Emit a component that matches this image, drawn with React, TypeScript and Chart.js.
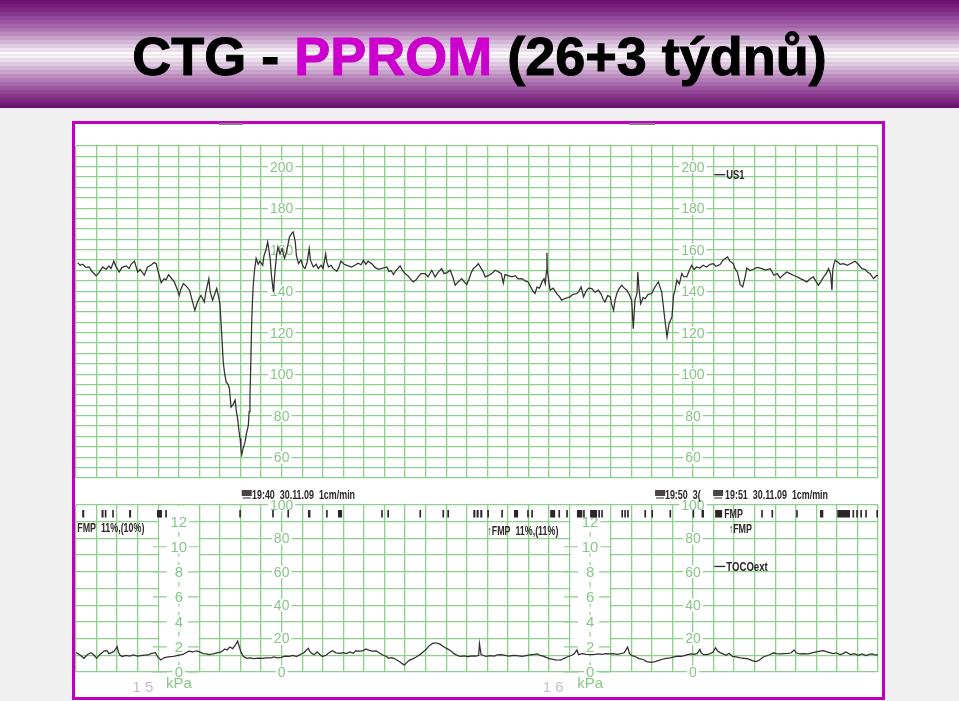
import { useEffect, useRef } from 'react';
import { Chart, registerables } from 'chart.js';

Chart.register(...registerables);

// ---------- DATA ----------
// Fetal heart rate trace: [minute on the strip, bpm]
const fhrTrace: [number, number][] = [
  [0.04,153.8],[0.10,152.5],[0.16,153],[0.24,151.5],[0.32,151.7],[0.39,149.5],[0.49,147.4],[0.56,149],[0.65,151.7],[0.73,150.5],
  [0.80,152.2],[0.85,151],[0.92,154.5],[0.97,152],[1.05,149.3],[1.12,151.5],[1.22,152.2],[1.29,151],[1.34,153],[1.42,154.5],
  [1.50,149.3],[1.56,150.5],[1.66,147.7],[1.74,151.7],[1.82,152.5],[1.90,153.8],[1.95,153.3],[1.99,150],[2.07,144.2],[2.14,146],
  [2.19,145.5],[2.25,148],[2.31,146.5],[2.39,144.5],[2.46,141],[2.51,138],[2.55,141],[2.61,143.7],[2.68,142.5],[2.76,140.5],
  [2.82,136],[2.89,130.8],[2.94,134],[2.99,136.5],[3.04,138],[3.09,136],[3.12,134.8],[3.16,140],[3.23,146.1],[3.26,140],
  [3.32,135.7],[3.38,139],[3.42,141.3],[3.46,138],[3.50,134],[3.54,120.4],[3.58,105.9],[3.61,101],[3.65,96.3],[3.70,95],
  [3.73,93.1],[3.77,84.2],[3.82,85.5],[3.87,87.5],[3.90,82],[3.93,78.7],[3.96,73],[3.99,69],[4.01,64],[4.03,61.3],
  [4.06,64],[4.11,67.4],[4.14,71],[4.19,75.4],[4.21,82],[4.23,89],[4.25,105],[4.27,123.6],[4.29,135],[4.31,142.9],
  [4.34,150],[4.38,155.8],[4.43,153],[4.47,154.5],[4.54,152.5],[4.57,157],[4.62,160],[4.66,163.8],[4.69,160],[4.72,155.8],
  [4.75,148],[4.80,139.7],[4.84,150],[4.88,158],[4.91,161.3],[4.96,158],[5.01,160.5],[5.07,155.8],[5.12,159],[5.19,166.2],
  [5.25,168],[5.28,168.6],[5.33,164],[5.36,157],[5.41,153.3],[5.47,155],[5.52,152],[5.57,150.9],[5.62,154],[5.67,160.5],
  [5.70,155],[5.77,151.7],[5.84,153],[5.89,150.9],[5.96,152.5],[6.01,151],[6.07,158.1],[6.10,154],[6.14,151.7],[6.20,152.5],
  [6.25,151],[6.34,149.6],[6.39,151.5],[6.44,154.5],[6.52,153],[6.59,152.5],[6.70,151.7],[6.78,152.5],[6.86,153.5],[6.93,152.8],
  [6.99,154.9],[7.05,153],[7.10,154.5],[7.19,153.3],[7.27,151.5],[7.35,150.6],[7.44,151],[7.56,151.7],[7.61,149.5],[7.66,150],
  [7.72,148],[7.78,150],[7.88,152.2],[7.94,150],[8.00,148.5],[8.07,147.5],[8.13,146],[8.20,144.5],[8.27,145.5],[8.32,146.9],
  [8.39,148.5],[8.49,148.5],[8.56,147],[8.65,150.1],[8.73,146.9],[8.80,149],[8.89,150.9],[8.95,148.5],[9.02,149],[9.10,150.1],
  [9.16,147],[9.22,142.9],[9.29,144.5],[9.38,146.1],[9.44,144.5],[9.50,143.2],[9.56,146],[9.61,149],[9.66,150.9],[9.73,152],
  [9.78,153.3],[9.85,151],[9.90,149.5],[9.95,146.9],[10.02,147.5],[10.11,148.5],[10.19,150.1],[10.26,149.5],[10.34,148.5],[10.39,143.9],
  [10.43,148],[10.51,147.5],[10.60,146.9],[10.68,147.5],[10.75,146],[10.84,146.1],[10.92,145],[10.99,144.5],[11.06,142],[11.11,140],
  [11.16,138.9],[11.21,142],[11.27,141.5],[11.33,144.5],[11.38,146],[11.41,143.7],[11.44,150],[11.45,158.5],[11.46,150.1],[11.50,144],
  [11.53,140.5],[11.60,141.5],[11.69,138.9],[11.75,137.5],[11.81,135.7],[11.89,136.5],[12.01,137.3],[12.09,138.5],[12.18,138.9],[12.23,140],
  [12.28,142.1],[12.34,137.3],[12.40,140],[12.46,141.5],[12.54,141.3],[12.62,139.5],[12.70,140.5],[12.77,138.5],[12.82,136],[12.86,134.8],
  [12.93,138],[12.99,137.3],[13.02,134],[13.07,130.8],[13.11,136],[13.15,138.9],[13.20,141],[13.27,142.9],[13.33,141.5],[13.39,140.5],
  [13.45,138.5],[13.51,135.7],[13.55,122],[13.59,135.7],[13.64,139],[13.66,149.3],[13.69,141],[13.73,134],[13.79,137],[13.84,136.4],
  [13.91,138.5],[14.00,138.9],[14.06,141.5],[14.11,143],[14.16,144.5],[14.20,142],[14.24,139.7],[14.28,133],[14.31,127.6],[14.37,118],
  [14.42,124.4],[14.49,127.6],[14.53,138],[14.57,141],[14.61,145.3],[14.67,143.5],[14.73,148.5],[14.78,147],[14.85,146.9],[14.91,150],
  [14.97,152.5],[15.03,150.5],[15.09,151.7],[15.17,151.2],[15.25,152.5],[15.33,151.7],[15.42,153],[15.50,153.3],[15.56,152],[15.66,152.9],
  [15.73,155],[15.84,156.5],[15.90,154.5],[15.98,153.3],[16.02,151],[16.08,149.3],[16.15,143.2],[16.21,142.1],[16.27,146.9],[16.31,151.2],
  [16.39,150],[16.47,150.6],[16.56,151.5],[16.68,150.9],[16.76,150.2],[16.88,150.9],[16.97,147.7],[17.05,148.5],[17.12,146.4],[17.20,148],
  [17.28,149.3],[17.36,148.5],[17.44,147.7],[17.53,147],[17.61,146.1],[17.68,145.5],[17.77,144.5],[17.85,146],[17.93,146.9],[18.00,144.5],
  [18.05,142.9],[18.12,145],[18.18,146.9],[18.24,148.5],[18.30,150.9],[18.35,148],[18.38,140.5],[18.40,150],[18.42,152.5],[18.46,154.9],
  [18.53,154],[18.58,153],[18.66,153.3],[18.75,152.5],[18.85,153.5],[18.94,154.5],[19.02,153],[19.11,150.9],[19.19,150.5],[19.26,149],
  [19.31,148.5],[19.39,146.1],[19.46,147.5],[19.50,147.7],
];

// External tocography trace: [minute on the strip, mmHg]
const tocoTrace: [number, number][] = [
  [0.00,11.6],[0.10,10.2],[0.19,8.2],[0.28,10.5],[0.37,11.6],[0.44,10],[0.50,8.2],[0.58,10.5],[0.69,12.7],[0.75,12.8],
  [0.80,11],[0.87,11.6],[0.93,12.5],[1.00,15.2],[1.03,12],[1.07,10.2],[1.12,9.3],[1.22,10],[1.31,9.5],[1.39,10.2],
  [1.50,9.5],[1.61,10],[1.75,10.2],[1.82,11],[1.93,11.6],[1.99,9],[2.06,7.2],[2.14,8.5],[2.24,9],[2.37,9.3],
  [2.48,10],[2.60,10.5],[2.74,12.5],[2.85,12],[2.92,12.7],[2.99,12.2],[3.09,11],[3.16,10.8],[3.24,10.4],[3.33,10.8],
  [3.43,11.5],[3.53,12],[3.62,13.8],[3.67,13.2],[3.74,15],[3.81,14],[3.87,16],[3.93,18.5],[3.96,16],[4.00,12.7],
  [4.06,9.5],[4.15,8.2],[4.23,8.4],[4.33,8.0],[4.43,8.3],[4.53,8.1],[4.62,8.5],[4.74,8.4],[4.81,9],[4.89,8.5],
  [4.99,8.8],[5.08,9.5],[5.18,9.3],[5.28,10],[5.36,9.3],[5.45,10.5],[5.54,11.5],[5.65,14.2],[5.68,12.5],[5.74,11],
  [5.80,10.4],[5.86,12],[5.93,10.5],[5.99,9.3],[6.08,10],[6.15,11.5],[6.24,12.7],[6.32,11.5],[6.42,11.2],[6.49,11.6],
  [6.57,11],[6.66,12],[6.74,11.2],[6.80,12.7],[6.91,12.5],[6.98,12.8],[7.05,13.8],[7.13,13],[7.20,12.5],[7.30,12.7],
  [7.37,11.5],[7.47,10],[7.55,9.3],[7.60,8.2],[7.66,8.6],[7.73,8.2],[7.81,7],[7.88,6],[7.93,5],[7.99,4.2],
  [8.03,5.5],[8.11,7.1],[8.20,8],[8.27,9],[8.36,10.4],[8.44,12],[8.51,13.5],[8.58,15.5],[8.67,17.1],[8.75,17.5],
  [8.85,16.7],[8.95,15],[9.02,14],[9.11,12.7],[9.19,11],[9.27,10],[9.35,9.3],[9.44,9.6],[9.53,9.2],[9.63,9.7],
  [9.73,9.5],[9.79,10],[9.81,17],[9.85,10.4],[9.97,9.3],[10.07,9.8],[10.17,9.5],[10.24,10.2],[10.35,10.4],[10.43,10],
  [10.53,9.5],[10.63,10],[10.72,9.8],[10.85,9.3],[10.94,9.8],[11.04,10.2],[11.14,10.5],[11.22,10.9],[11.28,10],[11.36,9.5],
  [11.43,8.8],[11.50,8],[11.60,7.5],[11.67,7.2],[11.78,7.1],[11.87,8.2],[11.97,9.3],[12.06,10],[12.12,11],[12.18,13.2],
  [12.22,10.4],[12.31,11],[12.40,10.5],[12.50,10.4],[12.59,10.4],[12.69,10.8],[12.79,10.5],[12.89,11],[12.97,10.9],[13.06,11],
  [13.16,10.5],[13.25,11],[13.33,11.5],[13.41,14.9],[13.46,11],[13.52,9.8],[13.59,9.3],[13.69,8],[13.79,7.5],[13.88,6.2],
  [13.97,5.8],[14.06,6],[14.15,6.8],[14.24,7.5],[14.34,8.2],[14.45,8.5],[14.54,9],[14.64,9.5],[14.72,9.3],[14.81,10],
  [14.89,10.5],[14.97,10.9],[15.03,10.5],[15.10,11],[15.17,13.5],[15.20,11.5],[15.26,10.4],[15.34,10.4],[15.42,11],[15.49,12],
  [15.55,14.5],[15.60,12.5],[15.66,11.6],[15.72,11],[15.81,10],[15.88,11.2],[15.96,9.3],[16.05,9],[16.15,8.5],[16.25,8.2],
  [16.34,7.8],[16.44,6.8],[16.54,6.2],[16.62,7.2],[16.71,9],[16.78,9.6],[16.88,10.5],[16.96,11.5],[17.02,11],[17.12,10.8],
  [17.21,11],[17.33,11.2],[17.39,11.5],[17.46,13.2],[17.51,11.5],[17.59,10.8],[17.68,11],[17.80,10.8],[17.90,11.5],[18.00,12],
  [18.09,12.5],[18.17,12.8],[18.26,12],[18.33,11.6],[18.41,11],[18.48,11.5],[18.58,10.4],[18.65,11],[18.72,12],[18.83,10.4],
  [18.92,11],[19.02,10],[19.11,10.8],[19.21,9.8],[19.28,10.5],[19.36,10.8],[19.43,10.2],[19.50,10.2],
];

// Fetal movement marks: [start minute, end minute]
const fmpMarks: [number, number][] = [
  [0.15,0.20],[0.62,0.67],[0.70,0.74],[0.88,0.92],[1.29,1.34],[1.97,2.09],[2.17,2.21],[3.97,4.01],[4.77,4.81],[5.14,5.18],
  [5.64,5.70],[6.08,6.12],[6.37,6.47],[7.42,7.46],[7.57,7.61],[8.35,8.39],[8.91,8.95],[9.03,9.07],[9.66,9.71],[9.74,9.79],
  [9.83,9.88],[10.00,10.04],[10.34,10.38],[10.65,10.75],[10.97,11.01],[11.07,11.11],[11.53,11.65],[11.73,11.77],[11.92,11.96],[12.18,12.31],
  [12.33,12.37],[12.50,12.67],[12.70,12.74],[12.77,12.81],[13.26,13.30],[13.33,13.37],[13.40,13.44],[13.82,13.86],[13.99,14.03],[14.43,14.47],
  [14.99,15.03],[15.21,15.27],[15.54,15.71],[16.66,16.70],[16.91,16.95],[17.51,17.55],[18.09,18.17],[18.51,18.82],[18.88,18.92],[18.97,19.01],
  [19.07,19.11],[19.19,19.23],[19.46,19.50],
];

const fhrScaleLabels = [60, 80, 100, 120, 140, 160, 180, 200];
const tocoScaleLabels = [0, 20, 40, 60, 80, 100];
const kpaScaleLabels = [0, 2, 4, 6, 8, 10, 12];
const mmScaleMinutes = [5, 15];
const kpaScaleMinutes = [2.5, 12.5];
const timestampTexts = ['19:40  30.11.09  1cm/min', '19:50  3(', '19:51  30.11.09  1cm/min'];
const fmpTexts = ['FMP  11%,(10%)', '\u2191FMP  11%,(11%)', 'FMP', '\u2191FMP'];
const pageNumbers = ['1 5', '1 6'];

// ---------- STYLE ----------
const GRID = '#8cd08c';
const LABEL = '#86c886';
const TRACE = '#352e30';
const INK = '#2c2628';
const FONT = '"Liberation Sans", Arial, Helvetica, sans-serif';

function drawCondensed(ctx: CanvasRenderingContext2D, text: string, x: number, y: number, size: number, color: string, sx = 0.72, weight = 'bold') {
  ctx.save();
  ctx.translate(x, y);
  ctx.scale(sx, 1);
  ctx.font = `${weight} ${size}px ${FONT}`;
  ctx.fillStyle = color;
  ctx.textAlign = 'left';
  ctx.textBaseline = 'alphabetic';
  ctx.fillText(text, 0, 0);
  ctx.restore();
}

function drawScaleLabel(ctx: CanvasRenderingContext2D, text: string, x: number, y: number, size = 14) {
  ctx.font = `${size}px ${FONT}`;
  const w = ctx.measureText(text).width;
  ctx.fillStyle = '#ffffff';
  ctx.fillRect(x - w / 2 - 2, y - size * 0.45, w + 4, size * 0.9);
  ctx.fillStyle = LABEL;
  ctx.textAlign = 'center';
  ctx.textBaseline = 'middle';
  ctx.fillText(text, x, y + 1);
}

function drawIcon(ctx: CanvasRenderingContext2D, x: number, y: number) {
  ctx.fillStyle = '#4a4446';
  ctx.fillRect(x, y - 9, 10, 6);
  ctx.fillStyle = '#9a9496';
  ctx.fillRect(x + 1, y - 2, 8, 2);
}

const xScaleOptions = {
  type: 'linear' as const,
  min: 0,
  max: 19.5,
  ticks: { display: false, stepSize: 0.5, autoSkip: false },
  grid: { color: GRID, lineWidth: 1.3, drawTicks: false },
  border: { display: false },
  afterFit: (s: any) => { s.height = 0; },
};

const fhrPaperPlugin = {
  id: 'fhrPaper',
  beforeDatasetsDraw(chart: any) {
    const { ctx } = chart;
    const x = chart.scales.x, y = chart.scales.y;
    ctx.save();
    for (const m of mmScaleMinutes) {
      for (const v of fhrScaleLabels) drawScaleLabel(ctx, String(v), x.getPixelForValue(m), y.getPixelForValue(v));
    }
    ctx.restore();
  },
  afterDraw(chart: any) {
    const { ctx } = chart;
    const x = chart.scales.x, y = chart.scales.y;
    const px = x.getPixelForValue(15.52), py = y.getPixelForValue(194);
    ctx.save();
    ctx.strokeStyle = INK;
    ctx.lineWidth = 1.3;
    ctx.beginPath();
    ctx.moveTo(px, py - 4.5);
    ctx.lineTo(px + 11, py - 4.5);
    ctx.stroke();
    drawCondensed(ctx, 'US1', px + 12, py, 12, INK, 0.78);
    ctx.restore();
  },
};

const tocoPaperPlugin = {
  id: 'tocoPaper',
  beforeDatasetsDraw(chart: any) {
    const { ctx } = chart;
    const x = chart.scales.x, y = chart.scales.y, k = chart.scales.kpa;
    ctx.save();
    const top = y.getPixelForValue(100) + 1;
    const bot = y.getPixelForValue(0) - 1;
    for (const m of kpaScaleMinutes) {
      const cx = x.getPixelForValue(m);
      const l = x.getPixelForValue(m - 0.5) + 1;
      const r = x.getPixelForValue(m + 0.5) - 1;
      ctx.fillStyle = '#ffffff';
      ctx.fillRect(l, top, r - l, bot - top);
      ctx.strokeStyle = GRID;
      ctx.lineWidth = 1.2;
      ctx.setLineDash([5, 5]);
      ctx.beginPath();
      ctx.moveTo(cx, k.getPixelForValue(12));
      ctx.lineTo(cx, bot);
      ctx.stroke();
      ctx.setLineDash([]);
      for (const v of kpaScaleLabels) {
        const py = k.getPixelForValue(v);
        ctx.beginPath();
        if (v !== 12) { ctx.moveTo(cx - 26, py); ctx.lineTo(cx - 12, py); }
        ctx.moveTo(cx + 9, py);
        ctx.lineTo(cx + 20, py);
        ctx.stroke();
        drawScaleLabel(ctx, String(v), cx, py, 15);
      }
    }
    for (const m of mmScaleMinutes) {
      for (const v of tocoScaleLabels) drawScaleLabel(ctx, String(v), x.getPixelForValue(m), y.getPixelForValue(v));
    }
    ctx.restore();
  },
  afterDraw(chart: any) {
    const { ctx } = chart;
    const x = chart.scales.x, y = chart.scales.y, k = chart.scales.kpa;
    ctx.save();
    // fetal movement marks
    ctx.fillStyle = INK;
    const y0 = y.getPixelForValue(97), y1 = y.getPixelForValue(92.5);
    for (const [a, b] of fmpMarks) {
      const x0 = x.getPixelForValue(a), x1 = x.getPixelForValue(b);
      ctx.fillRect(x0, y0, Math.max(1.6, x1 - x0), y1 - y0);
    }
    // timestamps
    const tsY = y.getPixelForValue(103.6);
    const tsPos = [[4.03, 4.28], [14.08, 14.32], [15.49, 15.78]];
    tsPos.forEach(([im, tm], i) => {
      drawIcon(ctx, x.getPixelForValue(im), tsY);
      drawCondensed(ctx, timestampTexts[i], x.getPixelForValue(tm), tsY, 13.5, INK, 0.66);
    });
    // FMP notes
    const fmpPos = [[0.03, 83.8], [10.0, 82], [15.76, 92], [15.87, 83]];
    fmpPos.forEach(([m, v], i) => drawCondensed(ctx, fmpTexts[i], x.getPixelForValue(m), y.getPixelForValue(v), 12, INK, 0.74));
    // TOCOext legend
    const lx = x.getPixelForValue(15.52), ly = y.getPixelForValue(60.5);
    ctx.strokeStyle = INK;
    ctx.lineWidth = 1.3;
    ctx.beginPath();
    ctx.moveTo(lx, ly - 4.5);
    ctx.lineTo(lx + 11, ly - 4.5);
    ctx.stroke();
    drawCondensed(ctx, 'TOCOext', lx + 12, ly, 12, INK, 0.8);
    // page numbers and kPa unit
    const pnMin = [1.63, 11.6];
    pnMin.forEach((m, i) => {
      ctx.font = `15px ${FONT}`;
      ctx.fillStyle = '#cbb9cb';
      ctx.textAlign = 'center';
      ctx.textBaseline = 'alphabetic';
      ctx.fillText(pageNumbers[i], x.getPixelForValue(m), y.getPixelForValue(-12));
    });
    for (const m of kpaScaleMinutes) {
      ctx.font = `15px ${FONT}`;
      ctx.fillStyle = LABEL;
      ctx.textAlign = 'center';
      ctx.fillText('kPa', x.getPixelForValue(m), k.getPixelForValue(-1.28));
    }
    ctx.restore();
  },
};

export default function App() {
  const fhrRef = useRef<HTMLCanvasElement>(null);
  const tocoRef = useRef<HTMLCanvasElement>(null);

  useEffect(() => {
    document.body.style.margin = '0';
    document.body.style.background = '#f0f0f0';

    const fhr = new Chart(fhrRef.current!, {
      type: 'line',
      data: {
        datasets: [{
          data: fhrTrace.map(([m, b]) => ({ x: m, y: b })),
          borderColor: TRACE,
          borderWidth: 1.25,
          pointRadius: 0,
          tension: 0,
          fill: false,
        }],
      },
      options: {
        animation: false,
        responsive: false,
        maintainAspectRatio: false,
        layout: { padding: { left: 4, right: 7, top: 25, bottom: 3 } },
        plugins: { legend: { display: false }, tooltip: { enabled: false }, title: { display: false } },
        scales: {
          x: xScaleOptions,
          y: {
            type: 'linear',
            min: 50,
            max: 210,
            ticks: { display: false, stepSize: 5 },
            grid: { color: GRID, lineWidth: 1.3, drawTicks: false },
            border: { display: false },
            afterFit: (s: any) => { s.width = 0; },
          },
        },
      },
      plugins: [fhrPaperPlugin],
    } as any);

    const toco = new Chart(tocoRef.current!, {
      type: 'line',
      data: {
        datasets: [{
          data: tocoTrace.map(([m, v]) => ({ x: m, y: v })),
          borderColor: TRACE,
          borderWidth: 1.25,
          pointRadius: 0,
          tension: 0,
          fill: false,
        }],
      },
      options: {
        animation: false,
        responsive: false,
        maintainAspectRatio: false,
        layout: { padding: { left: 4, right: 7, top: 24, bottom: 28 } },
        plugins: { legend: { display: false }, tooltip: { enabled: false }, title: { display: false } },
        scales: {
          x: xScaleOptions,
          y: {
            type: 'linear',
            min: 0,
            max: 100,
            ticks: { display: false, stepSize: 10 },
            grid: { color: GRID, lineWidth: 1.3, drawTicks: false },
            border: { display: false },
            afterFit: (s: any) => { s.width = 0; },
          },
          kpa: {
            type: 'linear',
            position: 'right',
            min: 0,
            max: 13.3322,
            ticks: { display: false },
            grid: { display: false, drawTicks: false },
            border: { display: false },
            afterFit: (s: any) => { s.width = 0; },
          },
        },
      },
      plugins: [tocoPaperPlugin],
    } as any);

    return () => {
      fhr.destroy();
      toco.destroy();
    };
  }, []);

  const banner =
    'repeating-linear-gradient(to bottom, rgba(255,255,255,0) 0px, rgba(255,255,255,0) 2px, rgba(80,0,80,0.07) 2px, rgba(80,0,80,0.07) 4px),' +
    'linear-gradient(to bottom, #6a0c6e 0%, #873590 12%, #ab6fb0 26%, #d9bfdc 39%, #ffffff 50%, #e2cde4 60%, #b47fb8 74%, #8a3a8f 88%, #6a0c6e 100%)';

  return (
    <div style={{ position: 'relative', width: 959, height: 701, background: '#f0f0f0', overflow: 'hidden' }}>
      <div style={{ position: 'absolute', left: 0, top: 0, width: 959, height: 108, background: banner }} />
      <div
        style={{
          position: 'absolute', left: 0, top: 29, width: 959, textAlign: 'center',
          font: `bold 54px ${FONT}`, lineHeight: '1', color: '#000', whiteSpace: 'nowrap',
          WebkitTextStrokeWidth: '1px',
        }}
      >
        CTG - <span style={{ color: '#cc00cc' }}>PPROM</span> (26+3 týdnů)
      </div>
      <div
        style={{
          position: 'absolute', left: 72, top: 121, width: 813, height: 579,
          border: '3px solid #bf00bf', boxSizing: 'border-box', background: '#ffffff',
        }}
      />
      <div style={{ position: 'absolute', left: 219, top: 123, width: 24, height: 2, background: '#8a7a8a' }} />
      <div style={{ position: 'absolute', left: 629, top: 123, width: 26, height: 2, background: '#8a7a8a' }} />
      <canvas ref={fhrRef} width={813} height={360} style={{ position: 'absolute', left: 72, top: 121 }} />
      <canvas ref={tocoRef} width={813} height={219} style={{ position: 'absolute', left: 72, top: 481 }} />
    </div>
  );
}
